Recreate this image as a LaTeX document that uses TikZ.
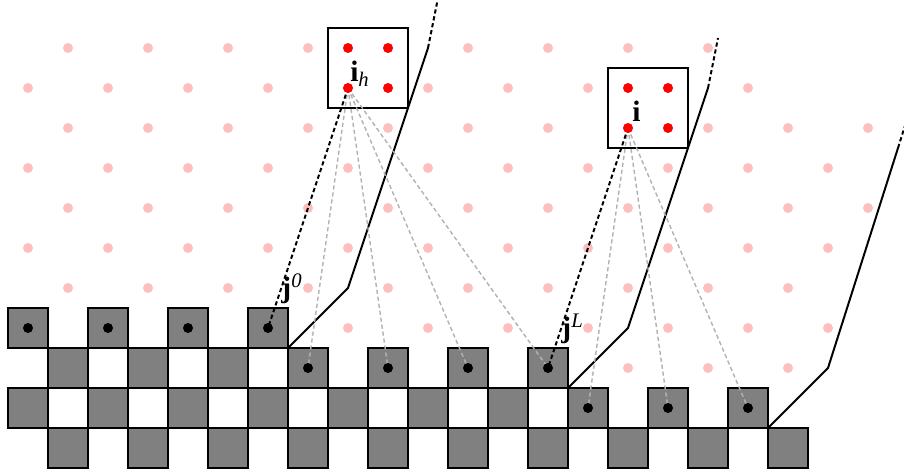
\documentclass[tikz,border=0pt]{standalone}
\usepackage{fontspec}
\setmainfont{Liberation Serif}
\usepackage{tikz}
\usetikzlibrary{positioning}

\begin{document}
\begin{tikzpicture}[
    x=1cm, y=1cm,
    pinkdot/.style={fill=red!25},
    reddot/.style={fill=red},
    cell/.style={draw=black, fill=gray, line width=1.6pt},
    bound/.style={line width=1.4pt},
    frame/.style={draw, line width=1.1pt, minimum size=2cm, inner sep=0pt},
    link/.style={dash pattern=on 3pt off 2pt, line width=1.4pt},
    halo/.style={dash pattern=on 3pt off 2pt, draw=black!30, line width=1pt},
    lbl/.style={inner sep=0pt, anchor=base west, font=\fontsize{21}{24}\selectfont}
]
\useasboundingbox (-0.7,1.2) rectangle (21.9,-10.7);
\clip (-0.7,1.2) rectangle (21.9,-10.7);

\foreach \m/\nmax in {0/17,1/18,2/21,3/20,4/21,5/20,6/19,7/20,8/19}
  \foreach \n in {0,...,\nmax} {
    \pgfmathtruncatemacro\pty{mod(\n+\m,2)}
    \ifnum\pty=1 \fill[pinkdot] (\n,-\m) circle (0.125); \fi
  }

\foreach \n in {0,2,4,6} \draw[cell] (\n-0.5,-7.5) rectangle +(1,1);
\foreach \n in {1,3,...,13} \draw[cell] (\n-0.5,-8.5) rectangle +(1,1);
\foreach \n in {0,2,...,18} \draw[cell] (\n-0.5,-9.5) rectangle +(1,1);
\foreach \n in {1,3,...,19} \draw[cell] (\n-0.5,-10.5) rectangle +(1,1);

\foreach \n in {0,2,4,6} \coordinate (b\n-7) at (\n,-7);
\foreach \n in {7,9,11,13} \coordinate (b\n-8) at (\n,-8);
\foreach \n in {14,16,18} \coordinate (b\n-9) at (\n,-9);
\coordinate (ih) at (8,-1);
\coordinate (i) at (15,-2);

\draw[bound] (6.5,-7.5) -- (8,-6) -- (10,0);
\draw[bound, link] (10,0) -- (10.25,1.25);
\draw[bound] (13.5,-8.5) -- (15,-7) -- (17,-1);
\draw[bound, link] (17,-1) -- (17.25,0.25);
\draw[bound] (18.5,-9.5) -- (20,-8) -- (21.75,-2.5);
\draw[bound, link] (21.75,-2.5) -- (22,-1.7);

\node[frame] (boxih) at (8.5,-0.5) {};
\node[frame] (boxi) at (15.5,-1.5) {};

\foreach \t in {b7-8,b9-8,b11-8,b13-8} \draw[halo] (ih) -- (\t);
\foreach \t in {b14-9,b16-9,b18-9} \draw[halo] (i) -- (\t);
\draw[link] (ih) -- (b6-7);
\draw[link] (i) -- (b13-8);

\foreach \c in {b0-7,b2-7,b4-7,b6-7,b7-8,b9-8,b11-8,b13-8,b14-9,b16-9,b18-9}
  \fill (\c) circle (0.125);
\foreach \p in {(8,0),(9,0),(8,-1),(9,-1),(15,-1),(16,-1),(15,-2),(16,-2)}
  \fill[reddot] \p circle (0.125);

\node[lbl] (lih) at (8.05,-0.85) {\textbf{i}\textsubscript{\textit{h}}};
\node[lbl] (li) at (15.1,-1.85) {\textbf{i}};
\node[lbl] (lj0) at (6.33,-6.24) {\textbf{j}\textsuperscript{\textit{0}}};
\node[lbl] (ljL) at (13.33,-7.24) {\textbf{j}\textsuperscript{\textit{L}}};
\end{tikzpicture}
\end{document}
